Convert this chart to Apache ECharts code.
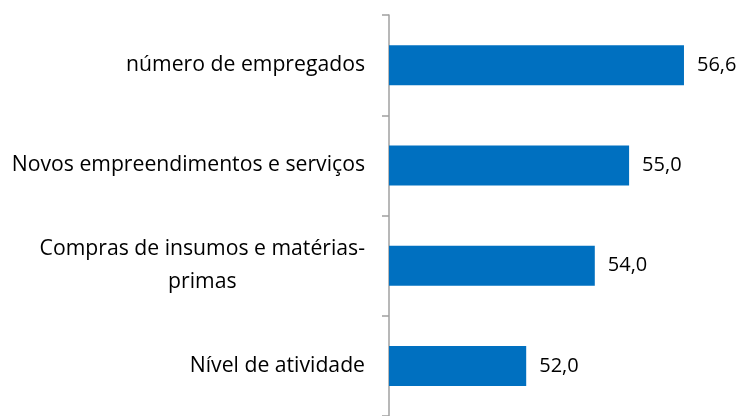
<!DOCTYPE html>
<html>
<head>
<meta charset="utf-8">
<script src="https://cdn.jsdelivr.net/npm/echarts@6/dist/echarts.min.js"></script>
<style>
html,body{margin:0;padding:0;background:#fff;}
#chart{width:746px;height:416px;}
</style>
</head>
<body>
<div id="chart"></div>
<script>
const categories = ['número de empregados', 'Novos empreendimentos e serviços', 'Compras de insumos e matérias-primas', 'Nível de atividade'];
const values = [56.6, 55.0, 54.0, 52.0];

const FONT = '"Open Sans", sans-serif';
const LABEL_SIZE = 21.2;
const chart = echarts.init(document.getElementById('chart'), null, {renderer: 'canvas'});

chart.setOption({
  animation: false,
  backgroundColor: '#ffffff',
  grid: { left: 389, right: 14, top: 15, bottom: -5, containLabel: false },
  xAxis: {
    type: 'value', min: 48, max: 58, show: false
  },
  yAxis: {
    type: 'category', inverse: true, data: categories,
    axisLine: { show: true, lineStyle: { color: '#a0a0a0', width: 1.5 } },
    axisTick: { show: true, length: 7, alignWithLabel: false, lineStyle: { color: '#a0a0a0', width: 1.5 } },
    axisLabel: {
      margin: 24, color: '#000', fontFamily: FONT, fontSize: LABEL_SIZE,
      formatter: function (v) {
        if (v === 'Compras de insumos e matérias-primas') {
          return '{a|Compras de insumos e matérias-}\n{c|primas}';
        }
        return v;
      },
      rich: {
        a: { fontFamily: FONT, fontSize: LABEL_SIZE, color: '#000', lineHeight: 33 },
        c: { fontFamily: FONT, fontSize: LABEL_SIZE, color: '#000', lineHeight: 33, align: 'center' }
      }
    },
    splitLine: { show: false }
  },
  series: [{
    type: 'bar', data: values, barWidth: 40,
    itemStyle: { color: '#0070C0' },
    label: {
      show: true, position: 'right', distance: 13, color: '#000',
      fontFamily: FONT, fontSize: 20,
      formatter: function (p) { return p.value.toFixed(1).replace('.', ','); }
    }
  }]
});
</script>
</body>
</html>
